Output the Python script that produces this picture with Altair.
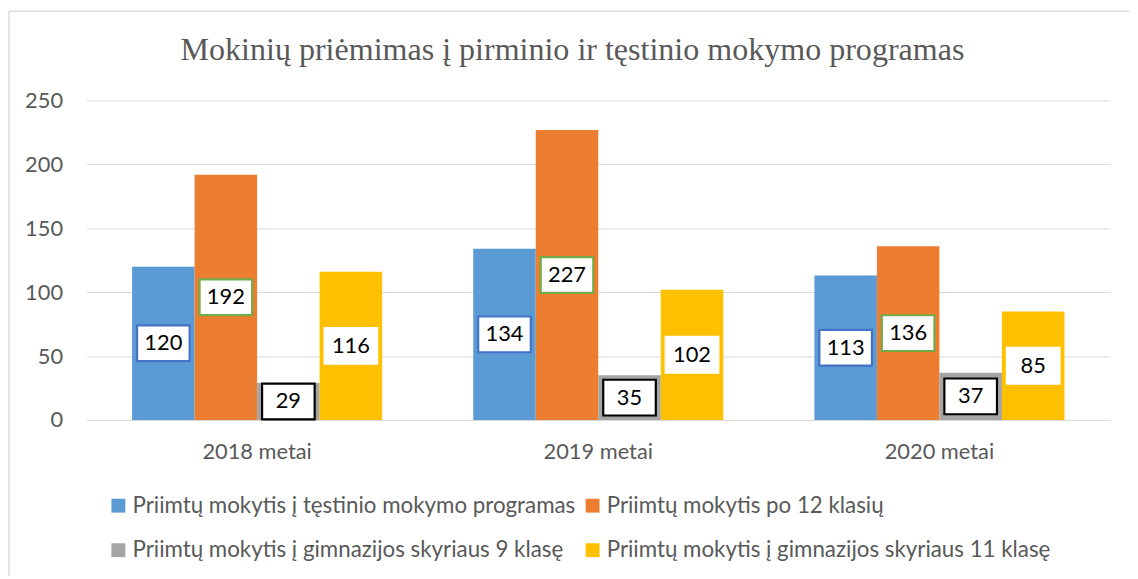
import altair as alt
import pandas as pd

title_text = "Mokinių priėmimas į pirminio ir tęstinio mokymo programas"
years = ["2018 metai", "2019 metai", "2020 metai"]
series = [
    "Priimtų mokytis į tęstinio mokymo programas",
    "Priimtų mokytis po 12 klasių",
    "Priimtų mokytis į gimnazijos skyriaus 9 klasę",
    "Priimtų mokytis į gimnazijos skyriaus 11 klasę",
]
s_testinio = [120, 134, 113]
s_po12 = [192, 227, 136]
s_9kl = [29, 35, 37]
s_11kl = [116, 102, 85]

bar_colors = ["#5B9BD5", "#ED7D31", "#A5A5A5", "#FFC000"]
box_colors = ["#4472C4", "#70AD47", "#000000", "#FFFFFF"]

rows = []
for s, vals in zip(series, [s_testinio, s_po12, s_9kl, s_11kl]):
    for y, v in zip(years, vals):
        rows.append({"year": y, "series": s, "value": v})
df = pd.DataFrame(rows)

FONT = "Lato"
GRAY = "#595959"

x_enc = alt.X("year:N", sort=years,
              scale=alt.Scale(paddingInner=0.267, paddingOuter=0.134),
              axis=alt.Axis(title=None, labelAngle=0, labelFont=FONT, labelFontSize=22,
                            labelColor=GRAY, ticks=False, tickSize=0, domain=False,
                            labelPadding=22, grid=False))
xo_enc = alt.XOffset("series:N", sort=series)
y_scale = alt.Scale(domain=[0, 250])
y_axis = alt.Axis(title=None, values=[0, 50, 100, 150, 200, 250], labelFont=FONT,
                  labelFontSize=22, labelColor=GRAY, ticks=False, tickSize=0,
                  domain=False, labelPadding=24, grid=True, gridColor="#D9D9D9", gridWidth=1)

base = alt.Chart(df)

bars = base.mark_bar().encode(
    x=x_enc, xOffset=xo_enc,
    y=alt.Y("value:Q", scale=y_scale, axis=y_axis),
    color=alt.Color("series:N", sort=series,
                    scale=alt.Scale(domain=series, range=bar_colors),
                    legend=alt.Legend(title=None, orient="none", legendX=21, legendY=397,
                                      columns=2, direction="horizontal", columnPadding=6,
                                      rowPadding=22, symbolType="square", symbolSize=196,
                                      symbolStrokeWidth=0, labelFont=FONT, labelFontSize=22.5,
                                      labelColor=GRAY, labelLimit=1000, labelOffset=3,
                                      padding=0)),
)

label_base = base.transform_calculate(half="datum.value / 2")

boxes = label_base.mark_point(
    shape="M-1,-0.68L1,-0.68L1,0.68L-1,0.68Z", size=2809, filled=True, fill="white",
    strokeWidth=2.2, opacity=1, fillOpacity=1, strokeOpacity=1
).encode(
    x=x_enc, xOffset=xo_enc,
    y=alt.Y("half:Q", scale=y_scale, axis=y_axis),
    stroke=alt.Stroke("series:N", scale=alt.Scale(domain=series, range=box_colors), legend=None),
)

texts = label_base.mark_text(font=FONT, fontSize=22, color="black", baseline="middle").encode(
    x=x_enc, xOffset=xo_enc,
    y=alt.Y("half:Q", scale=y_scale, axis=y_axis),
    text="value:Q",
)

deco = alt.Chart(pd.DataFrame({"t": [title_text]}))
title_mark = deco.mark_text(font="Liberation Serif", fontSize=32.3, color=GRAY,
                            baseline="alphabetic", align="center").encode(
    x=alt.value(490), y=alt.value(-41), text="t:N")
frame_top = deco.mark_rule(color="#D9D9D9", strokeWidth=1.5).encode(
    x=alt.value(-78), x2=alt.value(1051), y=alt.value(-90))
frame_left = deco.mark_rule(color="#D9D9D9", strokeWidth=1.5).encode(
    x=alt.value(-78), y=alt.value(-90), y2=alt.value(479))

chart = alt.layer(frame_top, frame_left, title_mark, bars, boxes, texts).properties(
    width=1032, height=322, padding=0, background="white"
).configure_view(stroke=None)

chart.save("out.html", embed_options={"renderer": "svg", "actions": False})
